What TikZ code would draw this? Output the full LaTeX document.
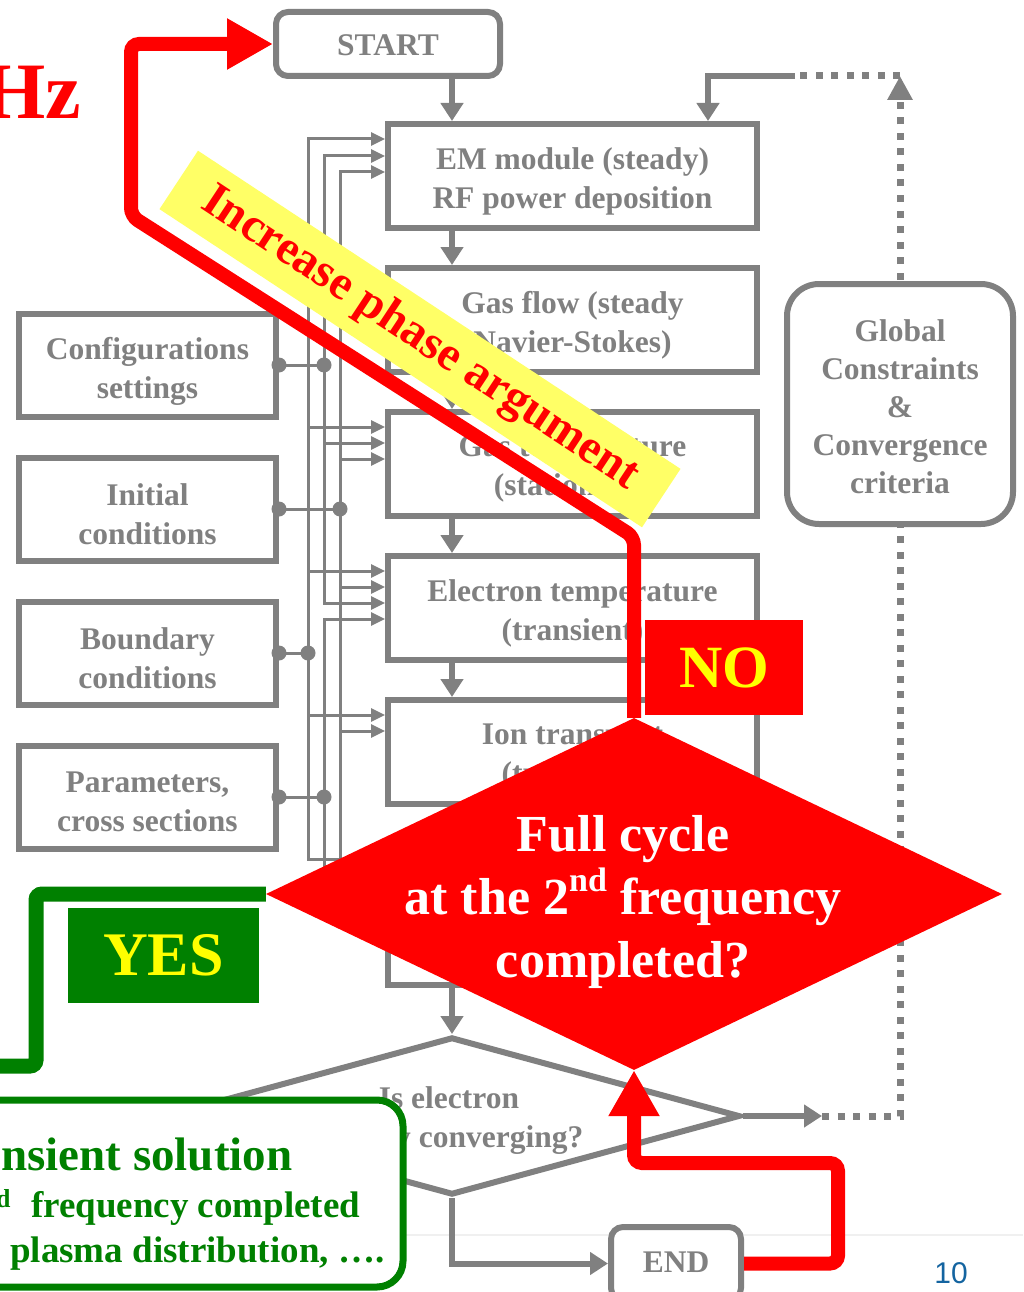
\documentclass[tikz,border=0pt]{standalone}
\usepackage{fontspec}
\setmainfont{Liberation Serif}
\newfontfamily\pgnumfont{Liberation Sans}
\usetikzlibrary{arrows.meta,shapes.geometric}
\definecolor{grayc}{RGB}{128,128,128}
\definecolor{rd}{RGB}{255,0,0}
\definecolor{gn}{RGB}{0,128,0}
\definecolor{yl}{RGB}{255,255,0}
\definecolor{bannerc}{RGB}{255,255,102}
\definecolor{pgblue}{RGB}{20,100,160}
\begin{document}
\begin{tikzpicture}[x=1pt,y=-1pt,
 gtext/.style={text=grayc,font=\fontsize{31.5}{39}\selectfont\bfseries,align=center,inner sep=0pt},
 cbox/.style={draw=grayc,line width=6pt,fill=white,minimum width=369pt,minimum height=104pt,inner sep=0pt},
 lbox/.style={draw=grayc,line width=6pt,fill=white,minimum width=257pt,minimum height=103pt,inner sep=0pt},
 rbox/.style={draw=grayc,line width=6pt,fill=white,rounded corners=12pt,inner sep=0pt},
 flow/.style={draw=grayc,line width=6pt,-{Triangle[width=22pt,length=18pt]}},
 bus/.style={draw=grayc,line width=3pt,line cap=rect},
 busarrow/.style={draw=grayc,line width=3pt,-{Triangle[width=13pt,length=14pt]}},
 jdot/.style={circle,fill=grayc,minimum size=15pt,inner sep=0pt},
 dotline/.style={draw=grayc,line width=7pt,dash pattern=on 7pt off 8.5pt},
 redpath/.style={draw=rd,line width=14pt,rounded corners=8pt,-{Triangle[width=48pt,length=46pt]}},
 greenpath/.style={draw=gn,line width=15pt,rounded corners=6pt},
 gtxt/.style={text=gn,font=\fontsize{37}{37}\selectfont\bfseries,anchor=base west,inner sep=0pt},
]
\useasboundingbox (0,0) rectangle (1023,1292);
\clip (0,0) rectangle (1023,1292);

% footer line and page number
\coordinate (fl) at (0,1235);
\coordinate (fr) at (1023,1235);
\draw[black!6,line width=2pt] (fl) -- (fr);
\node[text=pgblue,font=\pgnumfont\fontsize{30}{30}\selectfont,anchor=base,inner sep=0pt] (pgn) at (951,1283) {10};

% left column
\node[lbox] (cfg) at (147.5,365) {};
\node[gtext] (cfgt) at ([yshift=-6pt]cfg.center) {Configurations\\settings};
\node[lbox] (ini) at (147.5,509) {};
\node[gtext] (init) at ([yshift=-5pt]ini.center) {Initial\\conditions};
\node[lbox] (bnd) at (147.5,653) {};
\node[gtext] (bndt) at ([yshift=-5pt]bnd.center) {Boundary\\conditions};
\node[lbox] (par) at (147.5,797) {};
\node[gtext] (part) at ([yshift=-5pt]par.center) {Parameters,\\cross sections};

% central column
\node[rbox,minimum width=224pt,minimum height=64pt] (startb) at (388,44) {};
\node[gtext] (startt) at (388,45) {START};
\node[cbox] (em) at (572.5,176) {};
\node[gtext] (emt) at ([yshift=-5pt]em.center) {EM module (steady)\\RF power deposition};
\node[cbox] (gf) at (572.5,320) {};
\node[gtext] (gft) at ([yshift=-5pt]gf.center) {Gas flow (steady\\Navier-Stokes)};
\node[cbox] (gt) at (572.5,464) {};
\node[gtext] (gtt) at ([yshift=-5pt]gt.center) {Gas temperature\\(stationary)};
\node[cbox] (et) at (572.5,608) {};
\node[gtext] (ett) at ([yshift=-5pt]et.center) {Electron temperature\\(transient)};
\node[cbox] (io) at (572.5,752) {};
\node[gtext] (iot) at ([yshift=-5pt]io.center) {Ion transport\\(transient)};
\node[cbox,minimum height=141pt] (b6) at (572.5,914.5) {};
\node[diamond,draw=grayc,line width=6pt,fill=white,minimum width=576pt,minimum height=158pt,inner sep=0pt] (hex) at (452,1116) {};
\node[gtext] (hext) at (449,1121) {Is electron\\density converging?};
\node[rbox,minimum width=130pt,minimum height=73pt] (endb) at (676,1263.5) {};
\node[gtext] (endt) at (676,1262) {END};

% bus
\coordinate (ba) at (308,0);
\coordinate (bb) at (324,0);
\coordinate (bc) at (340,0);
\coordinate (bbot) at (0,905);
\coordinate (b6a) at (0,859);
\draw[bus] ([yshift=37pt]em.west -| ba) -- (ba |- b6a);
\draw[bus] ([yshift=20pt]em.west -| bb) -- ([yshift=5pt]et.west -| bb);
\draw[bus] ([yshift=-11pt]et.west -| bb) -- (bb |- bbot);
\draw[bus] ([yshift=4pt]em.west -| bc) -- (bc |- bbot);
\foreach \bxn/\sh/\col in {em/37/ba,em/20/bb,em/4/bc,gt/37/ba,gt/21/bb,gt/5/bc,et/37/ba,et/21/bc,et/5/bb,et/-11/bb,io/37/ba,io/21/bc}
  \draw[busarrow] ([yshift=\sh pt]\bxn.west -| \col) -- ([yshift=\sh pt]\bxn.west);
\draw[busarrow] (ba |- b6a) -- (b6.west |- b6a);
\draw[bus] (cfg.east) -- (cfg.east -| bb);
\draw[bus] (ini.east) -- (ini.east -| bc);
\draw[bus] (bnd.east) -- (bnd.east -| ba);
\draw[bus] (par.east) -- (par.east -| bb);
\node[jdot] (d1) at (cfg.east) {};
\node[jdot] (d2) at (cfg.east -| bb) {};
\node[jdot] (d3) at (ini.east) {};
\node[jdot] (d4) at (ini.east -| bc) {};
\node[jdot] (d5) at (bnd.east) {};
\node[jdot] (d6) at (bnd.east -| ba) {};
\node[jdot] (d7) at (par.east) {};
\node[jdot] (d8) at (par.east -| bb) {};

% main flow
\coordinate (colx) at (452,0);
\draw[flow] (startb.south -| colx) -- (em.north -| colx);
\draw[flow] (em.south -| colx) -- (gf.north -| colx);
\draw[flow] (gf.south -| colx) -- (gt.north -| colx);
\draw[flow] (gt.south -| colx) -- (et.north -| colx);
\draw[flow] (et.south -| colx) -- (io.north -| colx);
\draw[flow] (io.south -| colx) -- (b6.north -| colx);
\draw[flow] (b6.south -| colx) -- (hex.north);
\draw[flow] (hex.south) |- (endb.west);

% loop back
\coordinate (dq1) at (822,1116);
\coordinate (dq2) at (900,1116);
\coordinate (dq3) at (900,76);
\coordinate (dq4) at (795,76);
\coordinate (emin) at (708,0);
\draw[flow] (hex.east) -- (dq1);
\draw[dotline,-{Triangle[width=24pt,length=24pt]}] (dq1) -- (dq2) -- (dq3);
\draw[dotline] (dq3) -- (dq4);
\draw[flow] (dq4) -| (em.north -| emin);
\node[rbox,rounded corners=32pt,minimum width=226pt,minimum height=240pt] (glob) at (900,404) {};
\node[gtext,font=\fontsize{31.5}{38}\selectfont\bfseries] (globt) at (900,407) {Global\\Constraints\\\&\\Convergence\\criteria};

% red decision
\node[diamond,fill=rd,minimum width=736pt,minimum height=352pt,inner sep=0pt] (dia) at (634,894) {};
\node[text=white,font=\fontsize{52}{63}\selectfont\bfseries,align=center] (diat) at (623,902) {Full cycle\\at the 2\raisebox{0.45em}{\fontsize{34}{34}\selectfont nd} frequency\\completed?};
\node[fill=rd,minimum width=158pt,minimum height=95pt,inner sep=0pt,text=yl,font=\fontsize{60}{60}\selectfont\bfseries] (nob) at (724,667.5) {NO};

% yes branch
\coordinate (g1) at (36,1066);
\coordinate (g2) at (-20,1066);
\draw[greenpath] (dia.west) -| (g1) -- (g2);
\node[fill=gn,minimum width=191pt,minimum height=95pt,inner sep=0pt,text=yl,font=\fontsize{62}{62}\selectfont\bfseries] (yesb) at (163.5,955.5) {YES};
\node[draw=gn,line width=7pt,fill=white,rounded corners=26pt,minimum width=430pt,minimum height=187pt,inner sep=0pt] (tbox) at (188,1193.5) {};
\node[gtxt,font=\fontsize{47}{47}\selectfont\bfseries] (t1) at (1,1170) {nsient solution};
\node[gtxt] (t2) at (-4,1217) {\textsuperscript{d}\hspace{20pt}frequency completed};
\node[gtxt] (t3) at (10,1262) {plasma distribution, ….};

% banner
\node[fill=bannerc,rotate=-33.4,minimum width=578pt,minimum height=70pt,inner sep=0pt,text=rd,font=\fontsize{48}{48}\selectfont\bfseries] (ban) at (420,339) {Increase phase argument};

% red loop
\coordinate (r1) at (838,1163);
\coordinate (r2) at (0,537);
\coordinate (r3) at (131,216);
\draw[redpath] (endb.east) -| (r1) -| (dia.south);
\draw[redpath] (dia.north) -- (dia.north |- r2) -- (r3) |- (startb.west);

% title fragment
\node[text=rd,font=\fontsize{80}{80}\selectfont\bfseries,anchor=base east,inner sep=0pt] (hz) at (81,119) {Hz};
\end{tikzpicture}
\end{document}
